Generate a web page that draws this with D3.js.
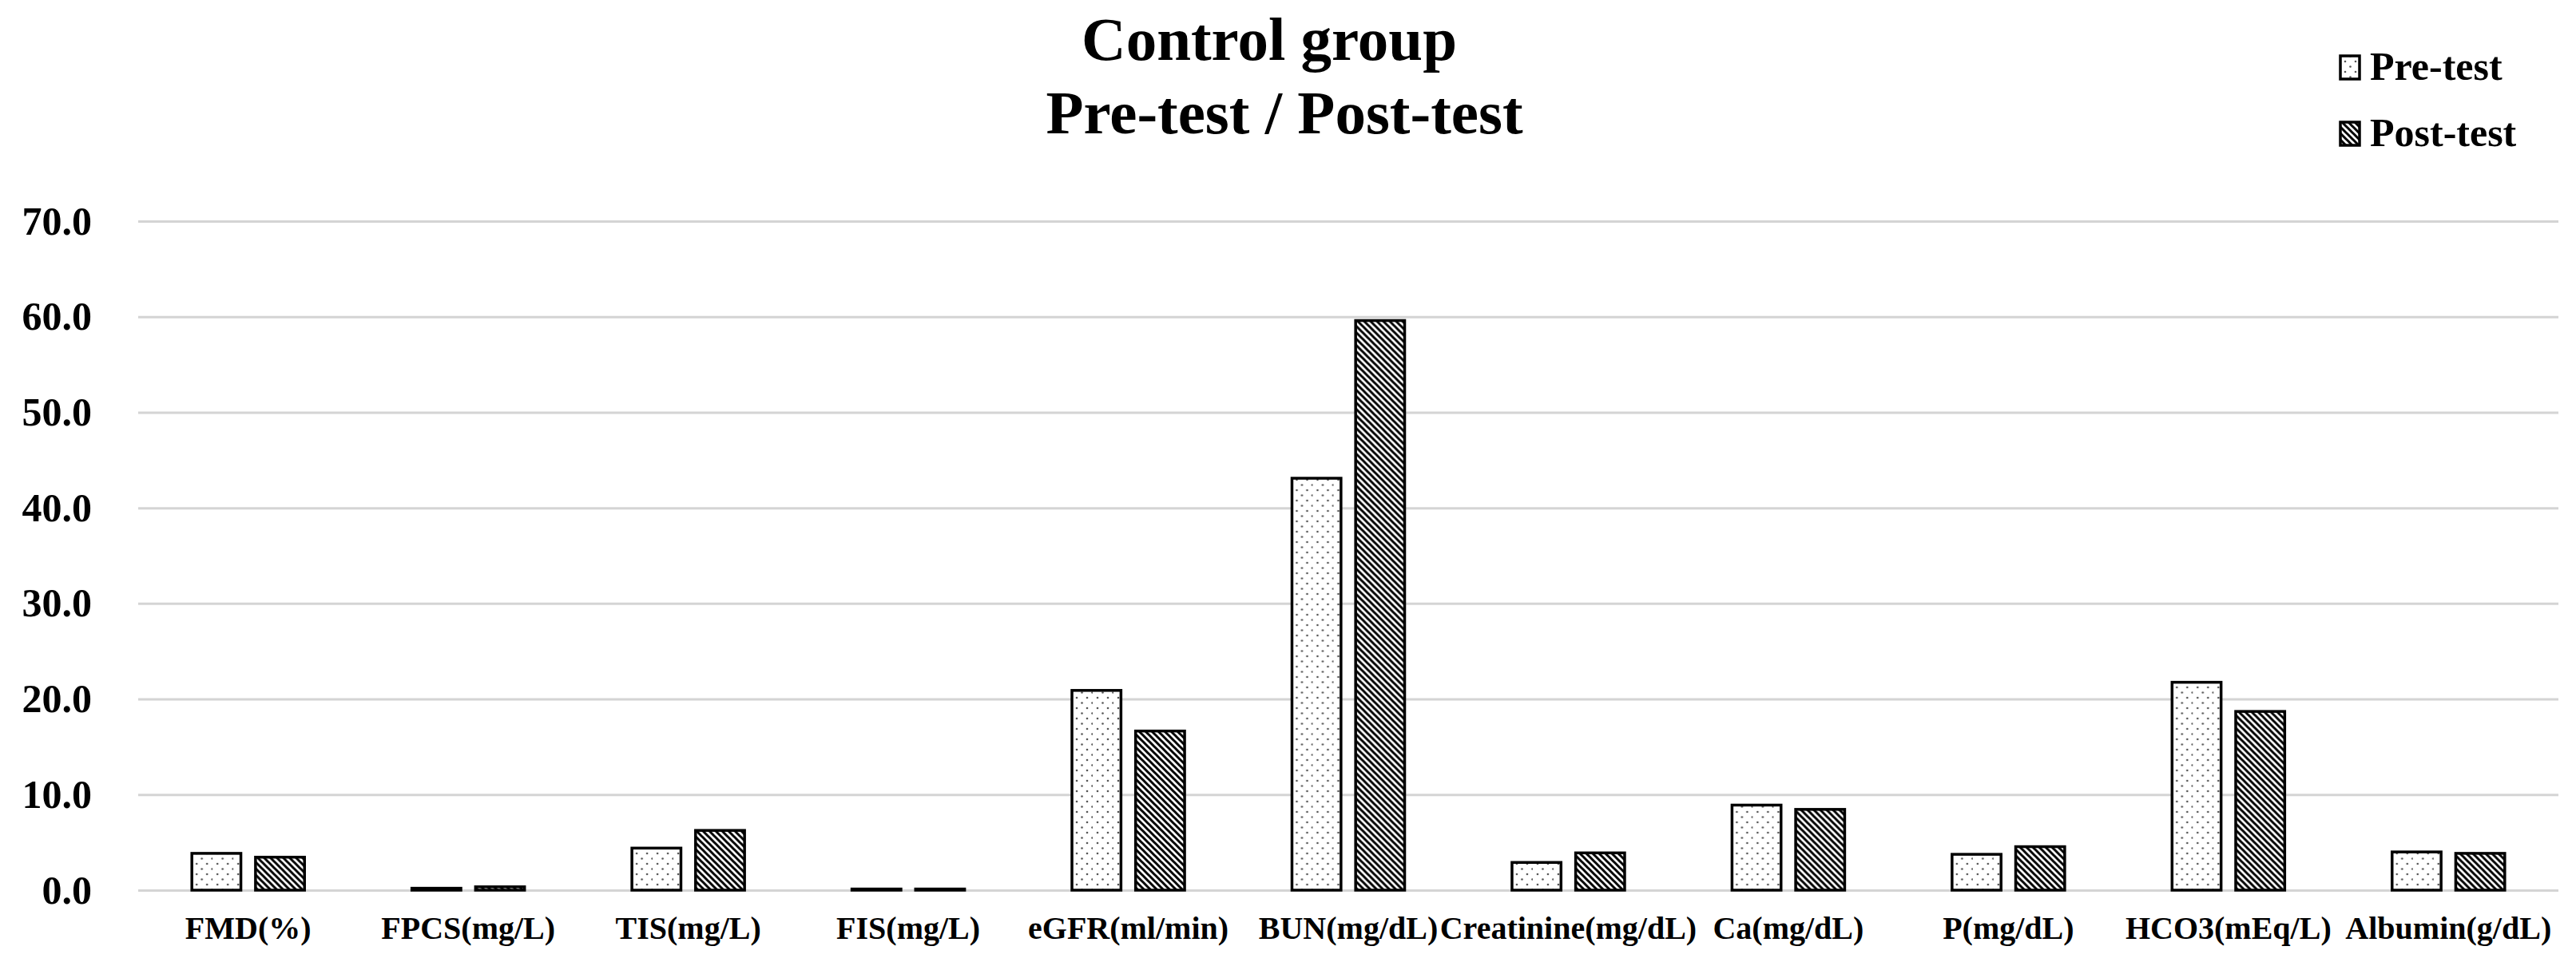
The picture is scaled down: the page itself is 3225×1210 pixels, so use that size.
<!DOCTYPE html>
<html>
<head>
<meta charset="utf-8">
<script src="https://cdn.jsdelivr.net/npm/d3@7"></script>
<style>
    body { margin: 0; background: #fff; }
    svg { display: block; font-family: 'Liberation Serif', 'Times New Roman', serif; font-weight: bold; }
</style>
</head>
<body>
<svg width="3225" height="1210">
    <defs></defs>
    <g class="title"></g>
    <g class="legend"></g>
    <g class="grid"></g>
    <g class="vis"></g>
    <g class="xaxis"></g>
</svg>
<script>
const categories = ['FMD(%)', 'FPCS(mg/L)', 'TIS(mg/L)', 'FIS(mg/L)', 'eGFR(ml/min)', 'BUN(mg/dL)',
    'Creatinine(mg/dL)', 'Ca(mg/dL)', 'P(mg/dL)', 'HCO3(mEq/L)', 'Albumin(g/dL)']
const series = ['Pre-test', 'Post-test']
const preTest = [3.85, 0.2, 4.4, 0.12, 20.9, 43.1, 2.9, 8.9, 3.75, 21.75, 4.0]
const postTest = [3.45, 0.35, 6.25, 0.12, 16.65, 59.6, 3.9, 8.45, 4.55, 18.7, 3.85]
const yTicks = [0, 10, 20, 30, 40, 50, 60, 70]
const titleLines = ['Control group', 'Pre-test / Post-test']

const svg = d3.select('svg')
const width = +svg.attr('width')
const height = +svg.attr('height')
const margin = {left: 173, right: 22, top: 277, bottom: 95}

const fills = {'Pre-test': 'url(#dots)', 'Post-test': 'url(#stripes)'}

// fill patterns (excel style dotted / wide downward diagonal)
const defs = svg.select('defs')
const dots = defs.append('pattern')
    .attr('id', 'dots')
    .attr('patternUnits', 'userSpaceOnUse')
    .attr('width', 26).attr('height', 13)
dots.append('rect').attr('width', 26).attr('height', 13).attr('fill', '#fff')
dots.append('circle').attr('cx', 6).attr('cy', 3).attr('r', 1.3).attr('fill', '#555')
dots.append('circle').attr('cx', 19).attr('cy', 3).attr('r', 1.3).attr('fill', '#555')
dots.append('circle').attr('cx', 12.5).attr('cy', 9.5).attr('r', 1.3).attr('fill', '#555')
dots.append('circle').attr('cx', 25.5).attr('cy', 9.5).attr('r', 1.3).attr('fill', '#555')

const stripes = defs.append('pattern')
    .attr('id', 'stripes')
    .attr('patternUnits', 'userSpaceOnUse')
    .attr('width', 8).attr('height', 8)
stripes.append('rect').attr('width', 8).attr('height', 8).attr('fill', '#fff')
stripes.append('path')
    .attr('d', 'M-2,-2L10,10M-2,6L2,10M6,-2L10,2')
    .attr('stroke', '#000')
    .attr('stroke-width', 3)

// scales
const x0 = d3.scaleBand()
    .domain(categories)
    .range([margin.left, width - margin.right])
    .paddingInner(0.488)
    .paddingOuter(0.244)

const x1 = d3.scaleBand()
    .domain(series)
    .range([0, x0.bandwidth()])
    .paddingInner(0.23)

const y = d3.scaleLinear()
    .domain([0, 70])
    .range([height - margin.bottom, margin.top])

// gridlines + y labels
const grid = svg.select('g.grid')
    .attr('transform', `translate(${margin.left},0)`)
    .call(d3.axisLeft(y)
        .tickValues(yTicks)
        .tickSize(-(width - margin.right - margin.left))
        .tickPadding(58)
        .tickFormat(d3.format('.1f')))
grid.select('.domain').remove()
grid.selectAll('line').attr('stroke', '#d4d4d4').attr('stroke-width', 3)
grid.selectAll('text')
    .attr('font-size', 50)
    .attr('font-family', 'Liberation Serif')
    .attr('font-weight', 'bold')
    .attr('fill', '#000')

// bars
const rows = categories.map((c, i) => ({cat: c, values: [
    {key: 'Pre-test', value: preTest[i]},
    {key: 'Post-test', value: postTest[i]}
]}))

const vis = svg.select('g.vis')
vis.selectAll('g')
    .data(rows)
    .enter()
    .append('g')
    .attr('transform', d => `translate(${x0(d.cat)},0)`)
    .selectAll('rect')
    .data(d => d.values)
    .enter()
    .append('rect')
    .attr('x', d => x1(d.key))
    .attr('y', d => y(d.value))
    .attr('width', x1.bandwidth())
    .attr('height', d => y(0) - y(d.value))
    .attr('fill', d => fills[d.key])
    .attr('stroke', '#000')
    .attr('stroke-width', 3.5)

// x labels
const xaxis = svg.select('g.xaxis')
    .attr('transform', `translate(0,${y(0)})`)
    .call(d3.axisBottom(x0).tickSize(0).tickPadding(33))
xaxis.select('.domain').remove()
xaxis.selectAll('text')
    .attr('font-size', 40)
    .attr('font-family', 'Liberation Serif')
    .attr('font-weight', 'bold')
    .attr('fill', '#000')

// title
svg.select('g.title')
    .selectAll('text')
    .data(titleLines)
    .enter()
    .append('text')
    .attr('x', (d, i) => i == 0 ? 1589 : 1608)
    .attr('y', (d, i) => 75 + i * 92)
    .attr('text-anchor', 'middle')
    .attr('font-size', 77)
    .text(d => d)

// legend
const legend = svg.select('g.legend')
    .selectAll('g')
    .data(series)
    .enter()
    .append('g')
    .attr('transform', (d, i) => `translate(2930,${100 + i * 83})`)
legend.append('rect')
    .attr('x', 0)
    .attr('y', -30)
    .attr('width', 24)
    .attr('height', 29)
    .attr('fill', d => fills[d])
    .attr('stroke', '#000')
    .attr('stroke-width', 3.5)
legend.append('text')
    .attr('x', 37)
    .attr('y', 0)
    .attr('font-size', 50)
    .text(d => d)
</script>
</body>
</html>
